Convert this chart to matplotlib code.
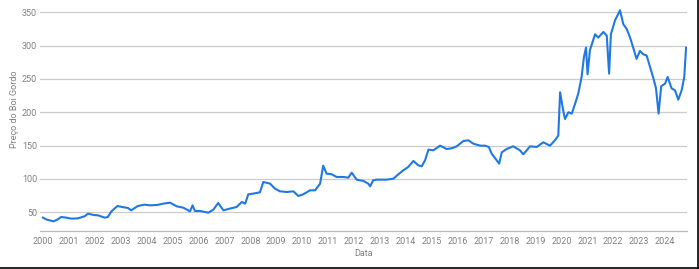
#!/usr/bin/env python
# -*- coding: utf-8 -*-

"""Preço do boi gordo, 2000-2024."""

import matplotlib.pyplot as plt
from matplotlib.lines import Line2D

plt.rcParams["font.family"] = ["Roboto", "DejaVu Sans"]

azul = "#2079e3"
cinza = "#808080"

anos = [
    2000.00, 2000.15, 2000.40, 2000.55, 2000.70, 2000.90, 2001.10, 2001.35,
    2001.60, 2001.74, 2001.95, 2002.12, 2002.38, 2002.50, 2002.64, 2002.87,
    2003.05, 2003.28, 2003.40, 2003.66, 2003.92, 2004.13, 2004.40, 2004.64,
    2004.90, 2005.16, 2005.41, 2005.67, 2005.77, 2005.86, 2006.06, 2006.38,
    2006.57, 2006.76, 2006.96, 2007.20, 2007.47, 2007.67, 2007.80, 2007.92,
    2008.10, 2008.37, 2008.50, 2008.76, 2008.95, 2009.14, 2009.40, 2009.66,
    2009.85, 2010.04, 2010.30, 2010.50, 2010.69, 2010.81, 2010.94, 2011.14,
    2011.33, 2011.59, 2011.78, 2011.91, 2012.10, 2012.36, 2012.55, 2012.62,
    2012.74, 2012.87, 2013.26, 2013.52, 2013.71, 2013.90, 2014.09, 2014.29,
    2014.48, 2014.61, 2014.74, 2014.87, 2015.06, 2015.32, 2015.57, 2015.77,
    2015.96, 2016.22, 2016.41, 2016.60, 2016.86, 2017.05, 2017.20, 2017.31,
    2017.50, 2017.60, 2017.70, 2017.89, 2018.14, 2018.40, 2018.53, 2018.79,
    2019.05, 2019.30, 2019.56, 2019.75, 2019.88, 2019.95, 2020.07, 2020.14,
    2020.27, 2020.40, 2020.53, 2020.65, 2020.78, 2020.87, 2020.95, 2021.01,
    2021.10, 2021.30, 2021.42, 2021.62, 2021.75, 2021.84, 2021.91, 2022.07,
    2022.20, 2022.26, 2022.39, 2022.52, 2022.65, 2022.77, 2022.90, 2023.03,
    2023.16, 2023.29, 2023.42, 2023.55, 2023.65, 2023.75, 2023.85, 2024.00,
    2024.10, 2024.25, 2024.38, 2024.51, 2024.64, 2024.74, 2024.81,
]
precos = [
    42, 39, 36.5, 39, 43, 42, 40.5, 41,
    44, 48, 46, 45.5, 42, 43, 51.5, 59.5,
    58, 56.5, 53, 59.5, 61.5, 60.5, 61, 63,
    64.5, 59, 57, 51.5, 60.5, 52, 52, 49.5,
    54, 64, 53, 55.5, 58, 65.5, 63, 77,
    78, 80, 95.5, 93, 85.5, 81.5, 80.5, 81.5,
    74.5, 77, 83, 83, 93, 120, 108, 107,
    103, 103, 102, 109.5, 99, 97, 93, 89,
    98, 99, 99, 100.5, 107, 113, 118, 127,
    120.5, 119, 128, 144, 143, 150, 145, 146,
    149, 157, 158, 153, 150, 150, 148, 138,
    128, 123, 140, 145, 149, 143, 137, 149,
    148, 155, 150, 158, 165, 230, 202.5, 190,
    200, 198, 213, 228, 253, 283, 297, 257,
    293, 317, 312, 320.5, 315, 258, 317, 338,
    348, 353, 332, 325, 312, 297, 280, 292,
    287, 285, 268, 251, 236, 198, 239, 243,
    253, 236, 233, 219, 233, 253, 297,
]
rotulos_x = list(range(2000, 2025))
rotulos_y = [50, 100, 150, 200, 250, 300, 350]

fig = plt.figure(figsize=(6.99, 2.69), dpi=100)
ax = fig.add_axes([40 / 699, 1 - 231 / 269, 647 / 699, 225.4 / 269])

ax.plot(anos, precos, color=azul, linewidth=1.5)

ax.set_xlim(1999.884, 2024.846)
ax.set_ylim(22, 360)
ax.set_xticks(rotulos_x)
ax.set_yticks(rotulos_y)

ax.grid(axis="y", color="#cccccc", linewidth=0.9)
ax.set_axisbelow(True)
for lado in ["top", "right", "left"]:
    ax.spines[lado].set_visible(False)
ax.spines["bottom"].set_color("#bbbbbb")
ax.spines["bottom"].set_linewidth(0.9)

ax.tick_params(length=0, labelsize=6.5, labelcolor=cinza)
ax.tick_params(axis="x", pad=4.5)
ax.tick_params(axis="y", pad=2)

ax.set_xlabel("Data", fontsize=6.5, color=cinza, labelpad=2)
ax.set_ylabel("Preço do Boi Gordo", fontsize=6.5, color=cinza)
ax.yaxis.set_label_coords(-0.032, 0.54)

# moldura preta à direita e embaixo
fig.add_artist(Line2D([0, 697.5 / 699], [1 - 267.5 / 269] * 2,
                      transform=fig.transFigure, color="black", linewidth=1.2))
fig.add_artist(Line2D([697.5 / 699] * 2, [1 - 267.5 / 269, 1],
                      transform=fig.transFigure, color="black", linewidth=1.2))

fig.savefig("out.png", dpi=100)
